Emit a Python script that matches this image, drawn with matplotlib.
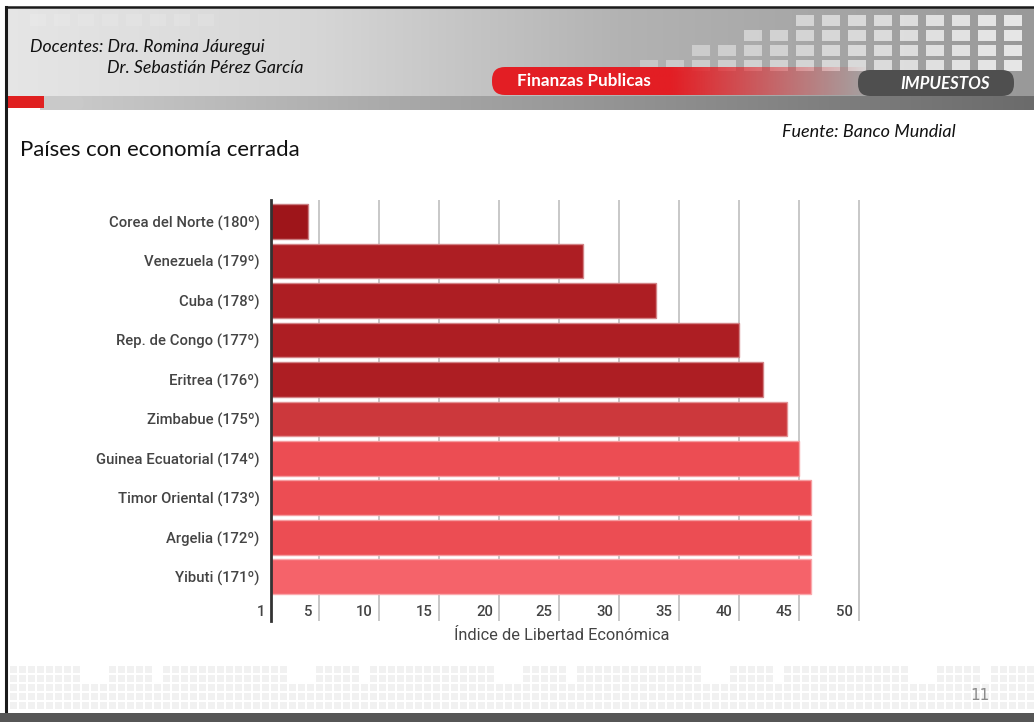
import numpy as np
import matplotlib
matplotlib.use("Agg")
import matplotlib.pyplot as plt
from matplotlib.patches import Rectangle, FancyBboxPatch
from matplotlib.colors import to_rgb

# ---------------- data ----------------
countries = ["Corea del Norte (180º)", "Venezuela (179º)", "Cuba (178º)",
             "Rep. de Congo (177º)", "Eritrea (176º)", "Zimbabue (175º)",
             "Guinea Ecuatorial (174º)", "Timor Oriental (173º)",
             "Argelia (172º)", "Yibuti (171º)"]
values = [4.1, 27.0, 33.1, 40.0, 42.0, 44.0, 45.0, 46.0, 46.0, 46.0]
bar_colors = ["#9E151A", "#AD1E23", "#AD1E23", "#AD1E23", "#AD1E23",
              "#CC383C", "#EC4D53", "#EC4D53", "#EC4D53", "#F5636A"]
xticks = [1, 5, 10, 15, 20, 25, 30, 35, 40, 45, 50]
xlabel = "Índice de Libertad Económica"
title = "Países con economía cerrada"
source = "Fuente: Banco Mundial"

W, H = 1034, 722
fig = plt.figure(figsize=(W / 100, H / 100), dpi=100)
fig.patch.set_facecolor("white")

# ---------------- slide decoration (pixel coordinates) ----------------
bg = fig.add_axes([0, 0, 1, 1])
bg.axis("off")

def hgrad(stops_x, stops_v, n=400):
    xs = np.linspace(0, 1, n)
    g = np.interp(xs, stops_x, stops_v)
    return np.dstack([g, g, g]).repeat(2, axis=0)

# header gradient
bg.imshow(hgrad([0, 0.3, 0.6, 1.0], [0.90, 0.84, 0.70, 0.60]),
          extent=[7, W, 96, 8], aspect="auto", zorder=1)

# light squares in the header (decorative)
sq_cols = np.arange(640, 1030, 26)
for i, cx in enumerate(sq_cols):
    nrows = 1 + i // 2
    for r in range(nrows):
        cy = 60 - r * 15
        if cy < 10:
            break
        shade = 0.80 + 0.17 * (i / len(sq_cols))
        bg.add_patch(Rectangle((cx, cy), 18, 11, color=(shade, shade, shade),
                               alpha=0.85, zorder=2, lw=0))
for cx in np.arange(30, 200, 24):
    bg.add_patch(Rectangle((cx, 14), 16, 12, color="white", alpha=0.12,
                           zorder=2, lw=0))

# gray band under header
bg.imshow(hgrad([0, 1], [0.80, 0.42]), extent=[40, W, 110, 96],
          aspect="auto", zorder=3)
bg.add_patch(FancyBboxPatch((44, 96), 40, 14, boxstyle="round,pad=0,rounding_size=7",
                            color="#c9c9c9", lw=0, zorder=3))
bg.add_patch(Rectangle((7, 96), 37, 12, color="#E02020", lw=0, zorder=3))

# red pill "Finanzas Publicas"
red = np.array(to_rgb("#E31E24"))
xr = np.linspace(0, 1, 300)
alpha = np.interp(xr, [0, 0.45, 1], [1, 1, 0.0])
redgrad = np.zeros((2, 300, 4))
redgrad[..., :3] = red
redgrad[..., 3] = alpha
bg.imshow(redgrad, extent=[510, 870, 95, 67], aspect="auto", zorder=4)
bg.add_patch(FancyBboxPatch((492, 67), 40, 28, boxstyle="round,pad=0,rounding_size=13",
                            color="#E31E24", lw=0, zorder=4))

# dark pill "IMPUESTOS"
bg.add_patch(FancyBboxPatch((858, 70), 156, 26, boxstyle="round,pad=0,rounding_size=12",
                            color="#4f4f4f", lw=0, zorder=5))

# borders
bg.plot([6, 6], [7, 714], color="#1a1a1a", lw=2.2, zorder=6)
bg.plot([6, W], [7, 7], color="#1a1a1a", lw=1.8, zorder=6)

# footer pattern
for row, cy in enumerate(np.arange(666, 710, 9)):
    for k, cx in enumerate(np.arange(10, W, 9)):
        if row < 2 and (k % 23) in (8, 9, 10, 16):
            continue
        bg.add_patch(Rectangle((cx, cy), 7, 7, color="#f1f1f1", lw=0, zorder=1))
bg.add_patch(Rectangle((0, 713), W, 9, color="#565656", lw=0, zorder=6))

# header texts (Calibri-like)
hfont = "Lato"
bg.text(30, 47, "Docentes: Dra. Romina Jáuregui", fontsize=12.7, style="italic",
        family=hfont, color="#111111", va="center", ha="left", zorder=7)
bg.text(107, 68, "Dr. Sebastián Pérez García", fontsize=12.8, style="italic",
        family=hfont, color="#111111", va="center", ha="left", zorder=7)
bg.text(517, 81, "Finanzas Publicas", fontsize=12.3, weight="bold",
        family=hfont, color="white", va="center", ha="left", zorder=7)
bg.text(900, 84, "IMPUESTOS", fontsize=12.2, weight="bold", style="italic",
        family=hfont, color="white", va="center", ha="left", zorder=7)
bg.text(20, 150, title, fontsize=15.9, family=hfont, color="#111111",
        va="center", ha="left", zorder=7)
bg.text(782, 132, source, fontsize=13, style="italic", family=hfont,
        color="#111111", va="center", ha="left", zorder=7)
bg.text(980, 696, "11", fontsize=11, family="DejaVu Sans", color="#8a8a8a",
        va="center", ha="center", zorder=7)

bg.set_xlim(0, W)
bg.set_ylim(H, 0)

# ---------------- chart ----------------
left_px, right_px, top_px, bot_px = 271, 865, 200, 621
ax = fig.add_axes([left_px / W, 1 - bot_px / H, (right_px - left_px) / W,
                   (bot_px - top_px) / H])
ax.set_facecolor("none")
ypos = np.arange(len(countries))
edge_cols = [tuple(0.55 * np.array(to_rgb(c)) + 0.45) for c in bar_colors]
ax.barh(ypos, values, height=0.88, color=bar_colors, edgecolor=edge_cols,
        linewidth=1.0, zorder=3)
ax.set_xlim(1, 50.5)
ax.set_ylim(len(countries) - 1 + 1.12, -0.545)

for s in ["top", "right", "bottom"]:
    ax.spines[s].set_visible(False)
ax.spines["left"].set_color("#333333")
ax.spines["left"].set_linewidth(2.0)
ax.spines["left"].set_zorder(5)

ax.set_xticks(xticks)
ax.set_xticklabels([])
ax.tick_params(axis="x", length=0)
ax.xaxis.grid(True, color="#c4c4c4", linewidth=1.3, zorder=0)
ax.set_axisbelow(True)

ax.set_yticks(ypos)
ax.set_yticklabels(countries, fontsize=10.7, family="Roboto", color="#444444",
                   fontweight="medium")
ax.tick_params(axis="y", length=0, pad=8.3)

for t in xticks:
    ax.annotate(str(t), xy=(t, 0), xycoords=("data", "axes fraction"),
                xytext=(-4.5, 6.5), textcoords="offset points",
                ha="right", va="center", fontsize=10.7, family="Roboto",
                color="#444444", fontweight="medium")

fig.text(562 / W, 1 - 636 / H, xlabel, ha="center", va="center",
         fontsize=11.8, family="Roboto", color="#444444")

fig.savefig("out.png", dpi=100)
